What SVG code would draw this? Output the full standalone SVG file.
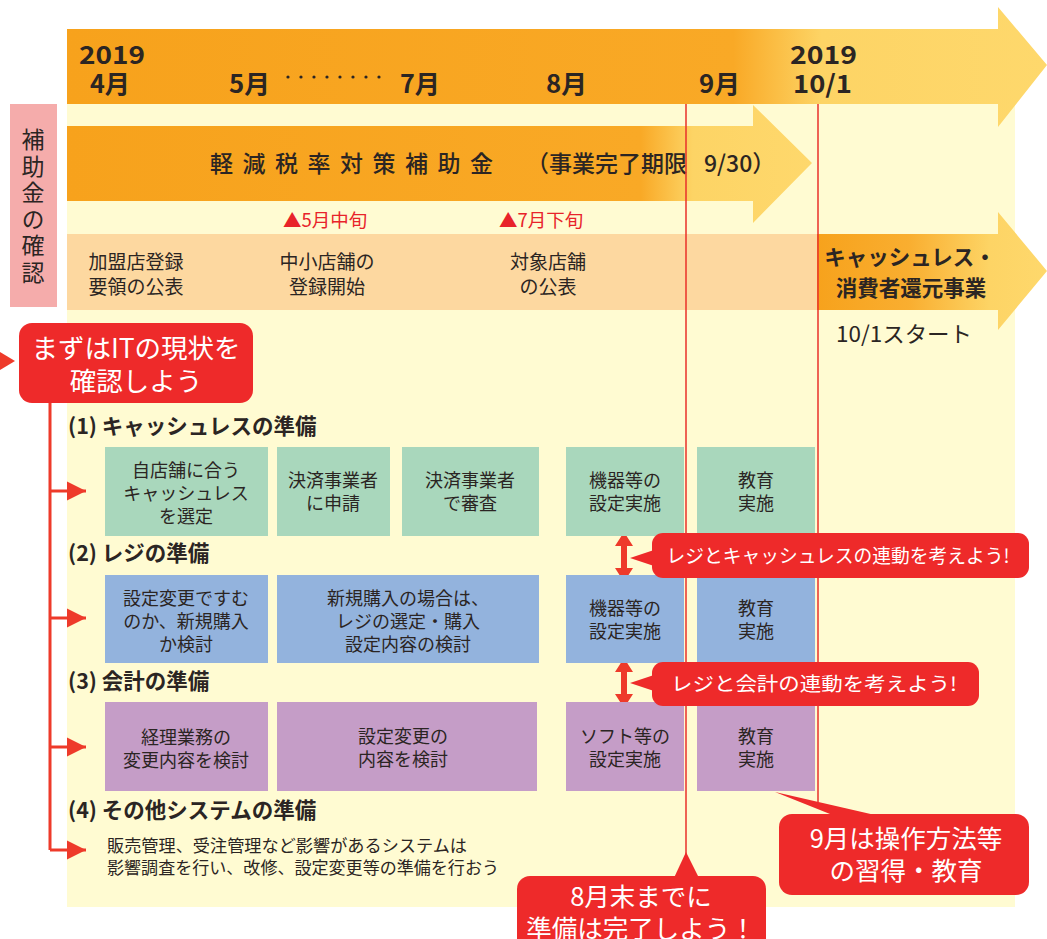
<svg xmlns="http://www.w3.org/2000/svg" width="1047" height="939" viewBox="0 0 1047 939">
<style>
text{font-family:"Noto Sans CJK JP","Noto Sans",sans-serif;fill:#2b2523}
.mo{font-size:25px;font-weight:700}
.bx{font-size:18px;text-anchor:middle}
.tl{font-size:19px;text-anchor:middle}
.hd{font-size:21.5px;font-weight:700}
.red{fill:#ee2a2a}
.ln{stroke:#ee3a2a;stroke-width:3;fill:none}
.vl{stroke:#e8302a;stroke-width:1.5}
.g{fill:#a9d7bc}.b{fill:#93b3dd}.p{fill:#c59dc7}
</style>
<defs>
<linearGradient id="g1" gradientUnits="userSpaceOnUse" x1="67" y1="0" x2="1047" y2="0">
<stop offset="0" stop-color="#f7a21c"/><stop offset="0.68" stop-color="#f9a926"/><stop offset="0.77" stop-color="#fdd465"/><stop offset="1" stop-color="#fed86c"/>
</linearGradient>
<linearGradient id="g2" gradientUnits="userSpaceOnUse" x1="67" y1="0" x2="812" y2="0">
<stop offset="0" stop-color="#f7a21c"/><stop offset="0.77" stop-color="#f9a926"/><stop offset="0.84" stop-color="#fdd465"/><stop offset="1" stop-color="#fed86c"/>
</linearGradient>
<linearGradient id="g3" gradientUnits="userSpaceOnUse" x1="817" y1="0" x2="1047" y2="0">
<stop offset="0" stop-color="#f7a21c"/><stop offset="0.4" stop-color="#f9ae30"/><stop offset="0.75" stop-color="#fdd465"/><stop offset="1" stop-color="#fed86c"/>
</linearGradient>
<marker id="ah" viewBox="0 0 10 10" refX="10" refY="5" markerWidth="6.5" markerHeight="6.5" markerUnits="strokeWidth" orient="auto"><path d="M0,0L10,5L0,10z" fill="#ee3a2a"/></marker>
</defs>

<rect x="67" y="104" width="948" height="803" fill="#fffbd2"/>

<g id="timeline">
<path d="M67,29H998V7L1047,65L998,127V104H67z" fill="url(#g1)"/>
<text class="mo" x="79" y="64" textLength="66" lengthAdjust="spacingAndGlyphs">2019</text>
<text class="mo" x="90" y="93" textLength="40" lengthAdjust="spacingAndGlyphs">4月</text>
<text class="mo" x="229" y="93" textLength="41" lengthAdjust="spacingAndGlyphs">5月</text>
<g fill="#2b2523">
<circle cx="288" cy="77" r="1.6"/><circle cx="301" cy="77" r="1.6"/><circle cx="314" cy="77" r="1.6"/><circle cx="327" cy="77" r="1.6"/><circle cx="340" cy="77" r="1.6"/><circle cx="353" cy="77" r="1.6"/><circle cx="366" cy="77" r="1.6"/><circle cx="379" cy="77" r="1.6"/>
</g>
<text class="mo" x="400" y="93" textLength="40" lengthAdjust="spacingAndGlyphs">7月</text>
<text class="mo" x="546" y="93" textLength="41" lengthAdjust="spacingAndGlyphs">8月</text>
<text class="mo" x="699" y="93" textLength="41" lengthAdjust="spacingAndGlyphs">9月</text>
<text class="mo" x="790" y="64" textLength="67" lengthAdjust="spacingAndGlyphs">2019</text>
<text class="mo" x="793" y="93" textLength="59" lengthAdjust="spacingAndGlyphs">10/1</text>
</g>

<g id="label-hojokin">
<rect x="10" y="104" width="47" height="203" fill="#f5acab"/>
<text x="33" y="128" font-size="23" writing-mode="vertical-rl" letter-spacing="3.5">補助金の確認</text>
</g>

<g id="subsidy-arrow">
<path d="M67,126H753V105L812,163L753,223V201H67z" fill="url(#g2)"/>
<text x="210" y="172" font-size="23" font-weight="500" letter-spacing="9.5">軽減税率対策補助金</text>
<text x="526" y="172" font-size="23" font-weight="500">（事業完了期限</text>
<text x="704" y="172" font-size="23" font-weight="500">9/30）</text>
</g>

<g id="milestones">
<text x="283" y="227" font-size="18.5" style="fill:#e8232a">▲5月中旬</text>
<text x="499" y="227" font-size="18.5" style="fill:#e8232a">▲7月下旬</text>
<rect x="67" y="234" width="750" height="76" fill="#fdd8a0"/>
<text class="tl" x="136" y="269">加盟店登録</text>
<text class="tl" x="136" y="294">要領の公表</text>
<text class="tl" x="327" y="269">中小店舗の</text>
<text class="tl" x="327" y="294">登録開始</text>
<text class="tl" x="548" y="269">対象店舗</text>
<text class="tl" x="548" y="294">の公表</text>
</g>

<g id="cashless-arrow">
<path d="M817,234H998V212L1047,271L998,330V310H817z" fill="url(#g3)"/>
<text x="910" y="265" font-size="21.5" font-weight="700" text-anchor="middle">キャッシュレス・</text>
<text x="911" y="296" font-size="21.5" font-weight="700" text-anchor="middle">消費者還元事業</text>
<text x="836" y="342" font-size="22" textLength="136" lengthAdjust="spacingAndGlyphs">10/1スタート</text>
</g>

<g id="connectors">
<line class="vl" x1="686" y1="104" x2="686" y2="856"/>
<line class="vl" x1="818" y1="104" x2="818" y2="802"/>
<path class="ln" d="M50,403V850"/>
<path class="ln" d="M50,491H86" marker-end="url(#ah)"/>
<path class="ln" d="M50,618H86" marker-end="url(#ah)"/>
<path class="ln" d="M50,747H86" marker-end="url(#ah)"/>
<path class="ln" d="M50,850H86" marker-end="url(#ah)"/>
<path d="M0,352L15,361L0,370z" fill="#ee3a2a"/>
<g fill="#ee3a2a">
<path d="M624,532L633,546H627V568H633L624,582L615,568H621V546H615z"/>
<path d="M624,658L633,672H627V694H633L624,708L615,694H621V672H615z"/>
</g>
</g>

<g id="callout-start">
<rect x="19" y="323" width="234" height="80" rx="13" class="red"/>
<text x="136" y="358" font-size="26.5" text-anchor="middle" style="fill:#fff">まずはITの現状を</text>
<text x="136" y="391" font-size="26.5" text-anchor="middle" style="fill:#fff">確認しよう</text>
</g>

<g id="sec1">
<text class="hd" x="68" y="434">(1) キャッシュレスの準備</text>
<rect class="g" x="105" y="447" width="163" height="89"/>
<text class="bx" x="186" y="477">自店舗に合う</text>
<text class="bx" x="186" y="500">キャッシュレス</text>
<text class="bx" x="186" y="523">を選定</text>
<rect class="g" x="277" y="447" width="113" height="89"/>
<text class="bx" x="333" y="487">決済事業者</text>
<text class="bx" x="333" y="510">に申請</text>
<rect class="g" x="402" y="447" width="137" height="89"/>
<text class="bx" x="470" y="487">決済事業者</text>
<text class="bx" x="470" y="510">で審査</text>
<rect class="g" x="566" y="447" width="118" height="89"/>
<text class="bx" x="625" y="487">機器等の</text>
<text class="bx" x="625" y="510">設定実施</text>
<rect class="g" x="697" y="447" width="118" height="89"/>
<text class="bx" x="756" y="487">教育</text>
<text class="bx" x="756" y="510">実施</text>
</g>

<g id="sec2">
<text class="hd" x="68" y="561">(2) レジの準備</text>
<rect class="b" x="105" y="575" width="163" height="88"/>
<text class="bx" x="186" y="605">設定変更ですむ</text>
<text class="bx" x="186" y="628">のか、新規購入</text>
<text class="bx" x="186" y="651">か検討</text>
<rect class="b" x="277" y="575" width="262" height="88"/>
<text class="bx" x="408" y="605">新規購入の場合は、</text>
<text class="bx" x="408" y="628">レジの選定・購入</text>
<text class="bx" x="408" y="651">設定内容の検討</text>
<rect class="b" x="566" y="575" width="118" height="88"/>
<text class="bx" x="625" y="615">機器等の</text>
<text class="bx" x="625" y="638">設定実施</text>
<rect class="b" x="697" y="575" width="118" height="88"/>
<text class="bx" x="756" y="615">教育</text>
<text class="bx" x="756" y="638">実施</text>
</g>

<g id="sec3">
<text class="hd" x="68" y="689">(3) 会計の準備</text>
<rect class="p" x="105" y="702" width="163" height="89"/>
<text class="bx" x="186" y="744">経理業務の</text>
<text class="bx" x="186" y="767">変更内容を検討</text>
<rect class="p" x="277" y="702" width="260" height="89"/>
<text class="bx" x="403" y="743">設定変更の</text>
<text class="bx" x="403" y="766">内容を検討</text>
<rect class="p" x="566" y="702" width="118" height="89"/>
<text class="bx" x="625" y="743">ソフト等の</text>
<text class="bx" x="625" y="766">設定実施</text>
<rect class="p" x="697" y="702" width="118" height="89"/>
<text class="bx" x="756" y="743">教育</text>
<text class="bx" x="756" y="766">実施</text>
</g>

<g id="sec4">
<text class="hd" x="68" y="818">(4) その他システムの準備</text>
<text x="107" y="852" font-size="16.5" textLength="360" lengthAdjust="spacingAndGlyphs">販売管理、受注管理など影響があるシステムは</text>
<text x="107" y="874" font-size="16.5" textLength="392" lengthAdjust="spacingAndGlyphs">影響調査を行い、改修、設定変更等の準備を行おう</text>
</g>

<g id="callout-link1">
<path d="M630,558L660,548V568z" class="red"/>
<rect x="652" y="533" width="377" height="45" rx="11" class="red"/>
<text x="838" y="563" font-size="19" text-anchor="middle" textLength="343" lengthAdjust="spacingAndGlyphs" style="fill:#fff">レジとキャッシュレスの連動を考えよう!</text>
</g>

<g id="callout-link2">
<path d="M630,683L660,673V693z" class="red"/>
<rect x="652" y="662" width="327" height="44" rx="11" class="red"/>
<text x="814" y="691" font-size="19" text-anchor="middle" textLength="286" lengthAdjust="spacingAndGlyphs" style="fill:#fff">レジと会計の連動を考えよう!</text>
</g>

<g id="callout-sep">
<path d="M775,792L840,818H888z" class="red"/>
<rect x="779" y="814" width="250" height="81" rx="13" class="red"/>
<text x="906" y="848" font-size="25.5" text-anchor="middle" style="fill:#fff">9月は操作方法等</text>
<text x="906" y="880" font-size="25.5" text-anchor="middle" style="fill:#fff">の習得・教育</text>
</g>

<g id="callout-aug">
<path d="M686,852L673,880H700z" class="red"/>
<rect x="517" y="876" width="249" height="80" rx="13" class="red"/>
<text x="641" y="906" font-size="25.5" text-anchor="middle" style="fill:#fff">8月末までに</text>
<text x="641" y="938" font-size="25.5" text-anchor="middle" style="fill:#fff">準備は完了しよう！</text>
</g>
</svg>
